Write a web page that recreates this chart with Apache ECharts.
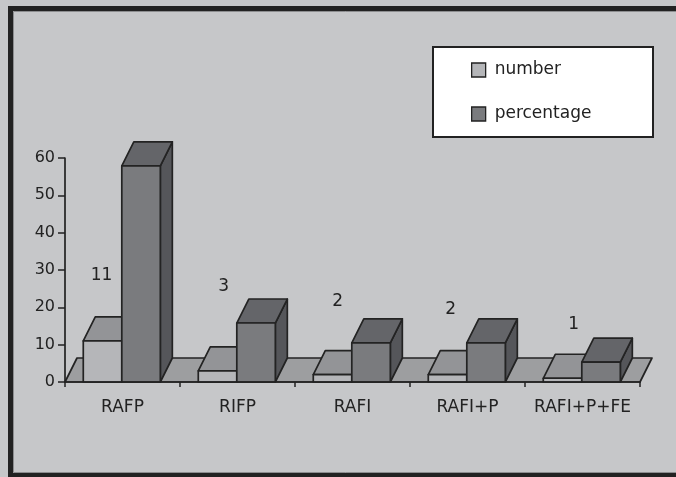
<!DOCTYPE html>
<html>
<head>
<meta charset="utf-8">
<script src="https://cdn.jsdelivr.net/npm/echarts@6/dist/echarts.min.js"></script>
<style>
  html, body { margin: 0; padding: 0; background: #c6c7c9; }
  #chart { width: 676px; height: 477px; }
</style>
</head>
<body>
<div id="chart"></div>
<script>
// Fixation types and how many cases (and what share) fell in each
const categories = ['RAFP', 'RIFP', 'RAFI', 'RAFI+P', 'RAFI+P+FE'];
const numberValues = [11, 3, 2, 2, 1];
const percentageValues = [57.9, 15.8, 10.5, 10.5, 5.3];
const yMin = 0, yMax = 60, yStep = 10;

// Hand-placed nudges for the count labels (px from the bar's front top centre)
const countLabelNudge = [[-1, -65], [6, -84], [5, -73], [3, -65], [11, -54]];

// Fake 3-D depth of bars and floor, in px
const DX = 12, DY = 24;
const EDGE = '#232323';
const EDGE_W = 1.7;
const FONT = 'DejaVu Sans';

const chart = echarts.init(document.getElementById('chart'), null, { renderer: 'canvas' });

function poly(points, fill) {
  return {
    type: 'polygon',
    shape: { points: points },
    style: { fill: fill, stroke: EDGE, lineWidth: EDGE_W, lineJoin: 'round' }
  };
}

// side 0 = left bar of the pair, side 1 = right bar of the pair
function barRenderer(side, faces, labels) {
  return function (params, api) {
    const idx = api.value(0);
    const val = api.value(1);
    const base = api.coord([idx, 0]);
    const top = api.coord([idx, val]);
    const band = api.size([1, 0])[0];
    const w = band * 0.335;
    const cx = base[0] - 0.7;
    const x0 = side === 0 ? cx - w : cx;
    const x1 = x0 + w;
    const y0 = base[1], y1 = top[1];
    const children = [
      poly([[x1, y0], [x1 + DX, y0 - DY], [x1 + DX, y1 - DY], [x1, y1]], faces.side),
      poly([[x0, y1], [x1, y1], [x1 + DX, y1 - DY], [x0 + DX, y1 - DY]], faces.top),
      poly([[x0, y0], [x1, y0], [x1, y1], [x0, y1]], faces.front)
    ];
    if (labels) {
      const n = countLabelNudge[idx];
      children.push({
        type: 'text',
        style: {
          text: String(val),
          x: (x0 + x1) / 2 + n[0],
          y: y1 + n[1],
          align: 'center',
          verticalAlign: 'middle',
          font: '17px "' + FONT + '"',
          fill: '#222'
        }
      });
    }
    return { type: 'group', children: children };
  };
}

// Floor plane under the bars, drawn once across all category bands
function floorRenderer(params, api) {
  const idx = api.value(0);
  if (idx !== 0) return null;
  const c = api.coord([0, 0]);
  const band = api.size([1, 0])[0];
  const xa = c[0] - band / 2, xb = xa + band * categories.length, y0 = c[1];
  return poly([[xa, y0], [xb, y0], [xb + DX, y0 - DY], [xa + DX, y0 - DY]], '#9d9ea0');
}

const option = {
  backgroundColor: '#c6c7c9',
  animation: false,
  textStyle: { fontFamily: FONT },
  grid: { left: 65, right: 36, top: 158, bottom: 95, containLabel: false },
  xAxis: {
    type: 'category',
    data: categories,
    z: 10,
    boundaryGap: true,
    axisLine: { lineStyle: { color: '#222', width: 1.7 } },
    axisTick: { show: true, length: 5, interval: 0, lineStyle: { color: '#222', width: 1.5 } },
    axisLabel: { fontSize: 17, color: '#222', margin: 17, interval: 0, fontFamily: FONT }
  },
  yAxis: {
    type: 'value',
    min: yMin, max: yMax, interval: yStep,
    z: 10,
    axisLine: { show: true, lineStyle: { color: '#222', width: 1.7 } },
    axisTick: { show: true, length: 7, lineStyle: { color: '#222', width: 1.5 } },
    axisLabel: { fontSize: 16, color: '#222', margin: 10, fontFamily: FONT },
    splitLine: { show: false }
  },
  legend: {
    orient: 'vertical',
    left: 471, top: 60,
    padding: 0,
    itemWidth: 14, itemHeight: 14, itemGap: 24,
    icon: 'rect',
    z: 6,
    itemStyle: { borderColor: '#222', borderWidth: 1.3 },
    textStyle: { fontSize: 17, lineHeight: 20, color: '#222', fontFamily: FONT, padding: [0, 0, 0, 4] },
    data: ['number', 'percentage']
  },
  graphic: [
    { type: 'rect', z: 1, shape: { x: 433, y: 47, width: 220, height: 90 },
      style: { fill: '#ffffff', stroke: '#222', lineWidth: 2 } },
    { type: 'rect', z: 1, silent: true, shape: { x: 13.5, y: 11.5, width: 700, height: 461 },
      style: { fill: null, stroke: '#8c8d8f', lineWidth: 1 } },
    { type: 'rect', z: 1, silent: true, shape: { x: 10.5, y: 8.5, width: 700, height: 467 },
      style: { fill: null, stroke: '#222', lineWidth: 5 } }
  ],
  series: [
    {
      name: 'floor', type: 'custom', z: 1, silent: true,
      renderItem: floorRenderer,
      encode: { x: 0, y: 1 },
      data: categories.map((c, i) => [i, 0])
    },
    {
      name: 'number', type: 'custom', z: 2,
      itemStyle: { color: '#b5b6b9' },
      renderItem: barRenderer(0, { front: '#b5b6b9', top: '#939497', side: '#808184' }, true),
      encode: { x: 0, y: 1 },
      data: numberValues.map((v, i) => [i, v])
    },
    {
      name: 'percentage', type: 'custom', z: 3,
      itemStyle: { color: '#7a7b7e' },
      renderItem: barRenderer(1, { front: '#7a7b7e', top: '#646569', side: '#55565a' }, false),
      encode: { x: 0, y: 1 },
      data: percentageValues.map((v, i) => [i, v])
    }
  ]
};

chart.setOption(option);
</script>
</body>
</html>
